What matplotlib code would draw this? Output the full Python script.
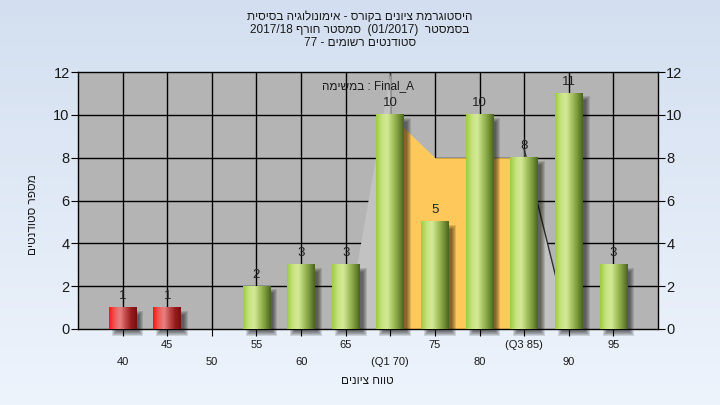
import re
import numpy as np
import matplotlib
matplotlib.use("Agg")
import matplotlib.pyplot as plt
from matplotlib.colors import LinearSegmentedColormap
from matplotlib.patches import Rectangle
import matplotlib.transforms as mtransforms

plt.rcParams['font.family'] = ['Liberation Sans', 'DejaVu Sans']

# ---------------- data ----------------
grades = [40, 45, 50, 55, 60, 65, 70, 75, 80, 85, 90, 95]
counts = [1, 1, 0, 2, 3, 3, 10, 5, 10, 8, 11, 3]
tick_labels = ['40', '45', '50', '55', '60', '65', '(Q1 70)', '75', '80', '(Q3 85)', '90', '95']
failing = [40, 45]

# box shading behind the bars
lo_whisker_x = [65, 70]
lo_whisker_y = [0, 12]
iqr_x = [70, 75, 80, 85]
iqr_y = [10, 8, 8, 8]
hi_whisker_x = [85, 90]
hi_whisker_y = [8.4, 0]

title_lines = ["היסטוגרמת ציונים בקורס - אימונולוגיה בסיסית",
               "בסמסטר  (01/2017)  סמסטר חורף 2017/18",
               "סטודנטים רשומים - 77"]
series_name = "Final_A : במשימה"
xlabel = "טווח ציונים"
ylabel = "מספר סטודנטים"


def rtl(s):
    # crude visual reordering: reverse, keep latin/digit runs, mirror brackets
    r = s[::-1]
    r = re.sub(r'[A-Za-z0-9_/.]+', lambda m: m.group(0)[::-1], r)
    return r.translate(str.maketrans('()', ')('))


# ---------------- figure ----------------
fig = plt.figure(figsize=(7.2, 4.05), dpi=100)

bg = fig.add_axes([0, 0, 1, 1], zorder=-10)
grad = np.linspace(0, 1, 256)[:, None]
bg.imshow(grad, aspect='auto', extent=(0, 1, 0, 1), origin='lower',
          cmap=LinearSegmentedColormap.from_list('bg', ['#eef4fc', '#d3dff0']))
bg.axis('off')

W, H = 720, 405
L, R, T, B = 78, 658, 72, 329
ax = fig.add_axes([L / W, 1 - B / H, (R - L) / W, (B - T) / H])
ax.set_facecolor('#b4b4b4')
xmin, xmax, ymin, ymax = 35, 100, 0, 12
px_x = (R - L) / (xmax - xmin)
px_y = (B - T) / (ymax - ymin)

# grid
ax.set_axisbelow(True)
for g in grades:
    ax.axvline(g, color='black', lw=1, zorder=0.5)
for v in range(2, 12, 2):
    ax.axhline(v, color='black', lw=1, zorder=0.5)

# shaded areas
ax.fill_between(lo_whisker_x, lo_whisker_y, color='#c2c2c2', lw=0, zorder=1)
ax.fill_between(hi_whisker_x, hi_whisker_y, color='#c2c2c2', lw=0, zorder=1)
ax.plot(hi_whisker_x, hi_whisker_y, color='#303030', lw=1, zorder=1.1)
ax.fill_between(iqr_x, iqr_y, color='#ffc85a', lw=0, zorder=1.2)

green = LinearSegmentedColormap.from_list(
    'g', ['#9ccc40', '#c6e27e', '#d4ea98', '#a8c462', '#7c9a3c', '#4a6420'])
red = LinearSegmentedColormap.from_list(
    'r', ['#ff1414', '#f05a5a', '#e88080', '#c04848', '#961c1c', '#781010'])

bw = 3.1
sx, sy = 5 / px_x, 5 / px_y
for g, c in zip(grades, counts):
    if c == 0:
        continue
    x0 = g - bw / 2
    # soft shadow
    for k in range(5):
        e = (k - 2) * 1.0
        ax.add_patch(Rectangle((x0 + sx - e / px_x, -sy - e / px_y),
                               bw + 2 * e / px_x, c + 2 * e / px_y,
                               color='black', alpha=0.12, lw=0, zorder=2,
                               clip_on=False))
    cmap = red if g in failing else green
    ax.imshow(np.linspace(0, 1, 64)[None, :], extent=(x0, x0 + bw, 0, c),
              aspect='auto', cmap=cmap, zorder=3, interpolation='bilinear')
    ax.annotate(str(c), (g, c), xytext=(0, 4), textcoords='offset points',
                ha='center', va='bottom', fontsize=9.5, color='#202020', zorder=4)

ax.set_xlim(xmin, xmax)
ax.set_ylim(ymin, ymax)

# axes
for s in ax.spines.values():
    s.set_color('black')
    s.set_linewidth(1)
ax.set_xticks(grades)
ax.set_xticklabels([])
ax.tick_params(axis='x', direction='out', length=5, color='black')
ax.set_yticks(range(0, 13, 2))
ax.tick_params(axis='y', direction='out', length=5, left=True, right=True,
               labelleft=True, labelright=True, labelsize=10.5,
               labelcolor='#1a1a1a', pad=1)

trans = mtransforms.blended_transform_factory(ax.transData, ax.transAxes)
for i, (g, lab) in enumerate(zip(grades, tick_labels)):
    yy = -(345 - B) / (B - T) if i % 2 else -(362 - B) / (B - T)
    ax.text(g, yy, lab, transform=trans, ha='center', va='center',
            fontsize=8, color='#1a1a1a')

ax.text(0.5, 1 - (86 - T) / (B - T), rtl(series_name), transform=ax.transAxes,
        ha='center', va='center', fontsize=8.5, color='#1a1a1a')

for i, line in enumerate(title_lines):
    fig.text(0.5, 1 - (17 + 13 * i) / H, rtl(line), ha='center', va='center',
             fontsize=8.5, color='#1a1a1a')

fig.text(367 / W, 1 - 381 / H, rtl(xlabel), ha='center', va='center',
         fontsize=8.5, color='#1a1a1a')
fig.text(33 / W, 1 - 215 / H, rtl(ylabel), ha='center', va='center',
         rotation=90, fontsize=8.5, color='#1a1a1a')

fig.savefig('out.png', dpi=100)
